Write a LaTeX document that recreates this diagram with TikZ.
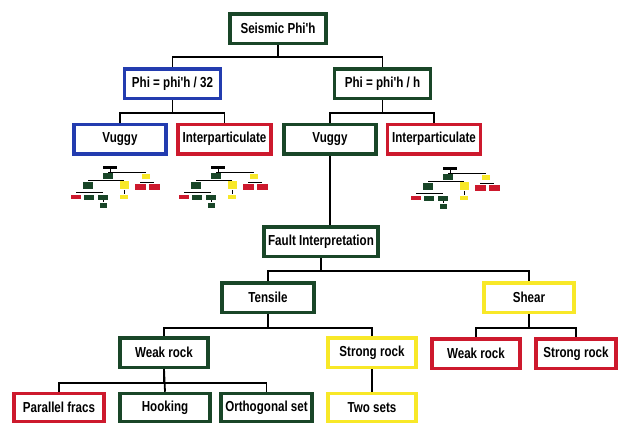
\documentclass[tikz,border=0pt]{standalone}
\usepackage{fontspec}
\newfontfamily\boxfont{Liberation Sans}[FakeStretch=0.8]
\definecolor{dgreen}{RGB}{25,70,40}
\definecolor{pblue}{RGB}{35,60,175}
\definecolor{pred}{RGB}{205,25,45}
\definecolor{pyellow}{RGB}{248,232,40}
\tikzset{
  box/.style={draw, line width=3.5pt, fill=white, inner sep=0pt, minimum height=29.5,
    font=\boxfont\bfseries\fontsize{14.5}{16}\selectfont},
  gbox/.style={box, draw=dgreen},
  bbox/.style={box, draw=pblue},
  rbox/.style={box, draw=pred},
  ybox/.style={box, draw=pyellow},
  mini/.style={draw=none, inner sep=0pt},
  minitree/.pic={
    \draw[line width=0.6pt] (36,17) -- (74,17);
    \draw[line width=0.6pt] (16,25) -- (52,25);
    \draw[line width=0.6pt] (68,27) -- (82,27);
    \draw[line width=0.6pt] (4,37) -- (31,37);
    \node[mini, fill=black, minimum width=14, minimum height=3] (-f) at (38,12) {};
    \node[mini, fill=dgreen, minimum width=10, minimum height=6] (-t) at (36,21) {};
    \node[mini, fill=pyellow, minimum width=8, minimum height=5] (-s) at (74,21) {};
    \node[mini, fill=dgreen, minimum width=10, minimum height=7] (-wa) at (16,30) {};
    \node[mini, fill=pyellow, minimum width=9, minimum height=8] (-sa) at (52,30) {};
    \node[mini, fill=pred, minimum width=11, minimum height=6] (-wb) at (68,32) {};
    \node[mini, fill=pred, minimum width=11, minimum height=6] (-sb) at (82,32) {};
    \node[mini, fill=pred, minimum width=10, minimum height=4] (-pf) at (4,42) {};
    \node[mini, fill=dgreen, minimum width=10, minimum height=5] (-hk) at (17,42) {};
    \node[mini, fill=dgreen, minimum width=10, minimum height=5] (-os) at (31,42) {};
    \node[mini, fill=pyellow, minimum width=8, minimum height=4] (-ts) at (52,42) {};
    \node[mini, fill=dgreen, minimum width=7, minimum height=5] (-ex) at (31,50) {};
    \draw[line width=0.6pt] (-f) -- (-f |- 0,17);
    \draw[line width=0.6pt] (-sa) -- (-ts);
    \draw[line width=0.6pt] (-os) -- (-ex);
  }
}
\begin{document}
\begin{tikzpicture}[x=1pt, y=-1pt, line width=1.8pt]
  \useasboundingbox (0,0) rectangle (622,423);
  % top levels
  \node[gbox, minimum width=96] (seis) at (278,28.5) {Seismic Phi'h};
  \node[bbox, minimum width=96] (phiA) at (172.5,83.5) {Phi = phi'h / 32};
  \node[gbox, minimum width=96] (phiB) at (382.5,83.5) {Phi = phi'h / h};
  \node[bbox, minimum width=92] (vugA) at (120,139) {Vuggy};
  \node[rbox, minimum width=93] (intA) at (224.5,139) {Interparticulate};
  \node[gbox, minimum width=92] (vugB) at (330,139) {Vuggy};
  \node[rbox, minimum width=93] (intB) at (434,139) {Interparticulate};
  \draw (seis.south) -- ++(0,12) -| (phiA.north);
  \draw (seis.south) -- ++(0,12) -| (phiB.north);
  \draw (phiA.south) -- ++(0,13) -| (vugA.north);
  \draw (phiA.south) -- ++(0,13) -| (intA.north);
  \draw (phiB.south) -- ++(0,13) -| (vugB.north);
  \draw (phiB.south) -- ++(0,13) -| (intB.north);
  % small copies of the fault tree
  \pic (mA) at (72,155) {minitree};
  \pic (mB) at (180,155) {minitree};
  \pic (mC) at (412,156) {minitree};
  % fault tree
  \node[gbox, minimum width=114] (fault) at (321,241.5) {Fault Interpretation};
  \node[gbox, minimum width=92] (tens) at (268,297.5) {Tensile};
  \node[ybox, minimum width=90] (shear) at (529,297.5) {Shear};
  \node[gbox, minimum width=88] (weakA) at (164,352.5) {Weak rock};
  \node[ybox, minimum width=88] (strA) at (372,352.5) {Strong rock};
  \node[rbox, minimum width=88] (weakB) at (476,353.5) {Weak rock};
  \node[rbox, minimum width=80] (strB) at (576,353.5) {Strong rock};
  \node[rbox, minimum width=90, minimum height=28] (par) at (59,407.5) {Parallel fracs};
  \node[gbox, minimum width=90, minimum height=28] (hook) at (165,407.5) {Hooking};
  \node[gbox, minimum width=91, minimum height=28] (orth) at (266.5,407.5) {Orthogonal set};
  \node[ybox, minimum width=88, minimum height=28] (two) at (372,407.5) {Two sets};
  \draw (vugB.south) -- (vugB.south |- fault.north);
  \draw (fault.south) -- ++(0,13) -| (tens.north);
  \draw (fault.south) -- ++(0,13) -| (shear.north);
  \draw (tens.south) -- ++(0,14) -| (weakA.north);
  \draw (tens.south) -- ++(0,14) -| (strA.north);
  \draw (shear.south) -- ++(0,14) -| (weakB.north);
  \draw (shear.south) -- ++(0,14) -| (strB.north);
  \draw (weakA.south) -- ++(0,14) -| (par.north);
  \draw (weakA.south) -- (hook.north);
  \draw (weakA.south) -- ++(0,14) -| (orth.north);
  \draw (strA.south) -- (two.north);
\end{tikzpicture}
\end{document}
